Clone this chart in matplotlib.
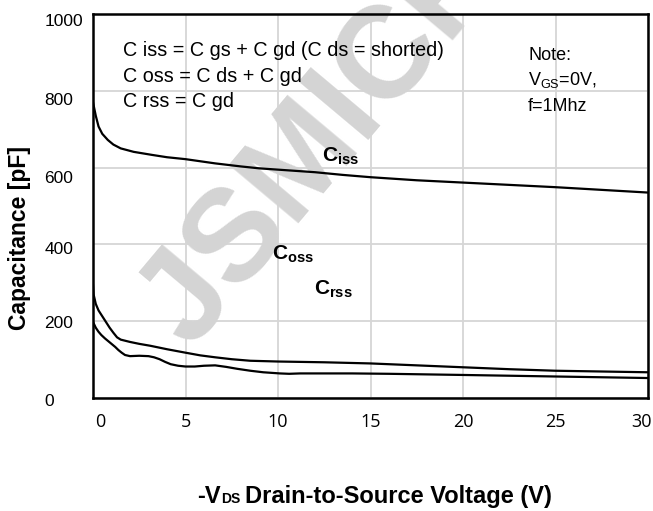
import matplotlib
matplotlib.use("Agg")
import matplotlib.pyplot as plt
import matplotlib.transforms as mtransforms

plt.rcParams['font.family'] = ['Liberation Sans', 'DejaVu Sans']
plt.rcParams['mathtext.fontset'] = 'custom'
plt.rcParams['mathtext.rm'] = 'Liberation Sans'
plt.rcParams['mathtext.bf'] = 'Liberation Sans:bold'
plt.rcParams['mathtext.it'] = 'Liberation Sans:italic'

# ===== DATA =====
vds_iss = [0, 0.15, 0.3, 0.5, 0.8, 1.1, 1.5, 2.2, 3.2, 4, 5, 6.6, 8, 9,
           10.5, 12, 13.5, 15, 17.5, 20, 22.5, 25, 27.5, 30]
ciss = [770, 735, 707, 688, 672, 660, 650, 641, 633, 627, 622, 611, 603, 598,
        593, 588, 581, 575, 567, 561, 555, 549, 542, 535]

vds_oss = [0, 0.03, 0.15, 0.3, 0.5, 0.7, 0.9, 1.1, 1.3, 1.5, 2, 2.5, 3.1, 4,
           5, 5.8, 6.6, 7.5, 8.5, 10, 12.5, 15, 17.5, 20, 22.5, 25, 27.5, 30]
coss = [294, 270, 245, 228, 213, 198, 183, 170, 158, 152, 146, 141, 136, 127,
        118, 111, 106, 101, 97, 95, 93, 90, 85, 80, 75, 71, 69, 67]

vds_rss = [0, 0.15, 0.29, 0.45, 0.65, 0.85, 1.0, 1.2, 1.37, 1.55, 1.73, 2.0,
           2.5, 3.0, 3.3, 3.6, 3.9, 4.2, 4.6, 5.0, 5.5, 6.0, 6.6, 7.2, 7.8,
           8.5, 9.2, 10.1, 10.6, 11.2, 12, 14, 16, 20, 25, 30]
crss = [198, 183, 173, 164, 155, 147, 141, 133, 125, 118, 112, 109,
        110, 109, 106, 101, 94, 88, 84, 82, 82, 84, 85, 81, 76,
        71, 67, 64, 63, 64, 64, 64, 63, 60, 56, 52]

x_ticks = [0, 5, 10, 15, 20, 25, 30]
y_ticks = [0, 200, 400, 600, 800, 1000]

formulas = ["C iss = C gs + C gd (C ds = shorted)",
            "C oss = C ds + C gd",
            "C rss = C gd"]
note_lines = ["Note:", r"V$_{\mathregular{GS}}$=0V,", "f=1Mhz"]

# ===== PLOT =====
fig = plt.figure(figsize=(6.53, 5.11), dpi=100)
ax = fig.add_axes([93/653, 113/511, 555/653, 384/511])

ax.plot(vds_iss, ciss, color="black", lw=1.6, zorder=3)
ax.plot(vds_oss, coss, color="black", lw=1.6, zorder=3)
ax.plot(vds_rss, crss, color="black", lw=1.6, zorder=3)

ax.set_xlim(0, 30)
ax.set_ylim(0, 1000)
ax.set_xticks(x_ticks)
ax.set_yticks(y_ticks)
ax.grid(color="#d6d6d6", lw=1.3)
ax.set_axisbelow(True)
for sp in ax.spines.values():
    sp.set_linewidth(1.8)
    sp.set_color("black")

ax.tick_params(axis="x", length=0, pad=11, labelsize=13)
ax.tick_params(axis="y", length=0, pad=35, labelsize=12.5)
for lab in ax.get_xticklabels():
    lab.set_fontfamily("Open Sans")

# small nudges so the labels sit where the datasheet has them (pixels)
def nudge(lab, dx, dy):
    lab.set_transform(lab.get_transform() +
                      mtransforms.ScaledTranslation(dx/100, -dy/100, fig.dpi_scale_trans))

xl = ax.get_xticklabels()
nudge(xl[0], 7, 0)
nudge(xl[-1], -6, 0)
for lab, dy in zip(ax.get_yticklabels(), [2, 1, 4, 9, 8, 6]):
    lab.set_horizontalalignment("left")
    nudge(lab, 0, dy)

# watermark
ax.text(190/653, (511-350)/511, "JSMICRO", transform=fig.transFigure,
        fontsize=94, fontweight="bold", color="#d4d4d4", rotation=50,
        rotation_mode="anchor", ha="left", va="baseline",
        zorder=1, clip_on=False)

# formulas + note
for i, t in enumerate(formulas):
    ax.text(0.054, [0.906, 0.836, 0.771][i], t, transform=ax.transAxes,
            fontsize=14.2, va="center", ha="left", zorder=4)
for i, t in enumerate(note_lines):
    ax.text(0.784, [0.893, 0.828, 0.758][i], t, transform=ax.transAxes,
            fontsize=13, va="center", ha="left", zorder=4)

# curve labels
ax.text(12.36, 615, r"$\mathbf{C_{iss}}$", fontsize=15, va="baseline", zorder=4)
ax.text(9.66, 359, r"$\mathbf{C_{oss}}$", fontsize=15, va="baseline", zorder=4)
ax.text(11.95, 268, r"$\mathbf{C_{rss}}$", fontsize=15, va="baseline", zorder=4)

# axis labels
fig.text(20/653, (511-238)/511, "Capacitance [pF]", rotation=90,
         fontsize=16.5, fontweight="bold", ha="center", va="center")
yb = 8/511
fig.text(221/653, yb, "-V", fontsize=17, fontweight="bold", ha="right", va="baseline")
fig.text(221/653, yb, "DS", fontsize=10, fontweight="bold", ha="left", va="baseline")
fig.text(245/653, yb, "Drain-to-Source Voltage (V)", fontsize=17,
         fontweight="bold", ha="left", va="baseline")

plt.savefig("out.png", dpi=100)
plt.close()
